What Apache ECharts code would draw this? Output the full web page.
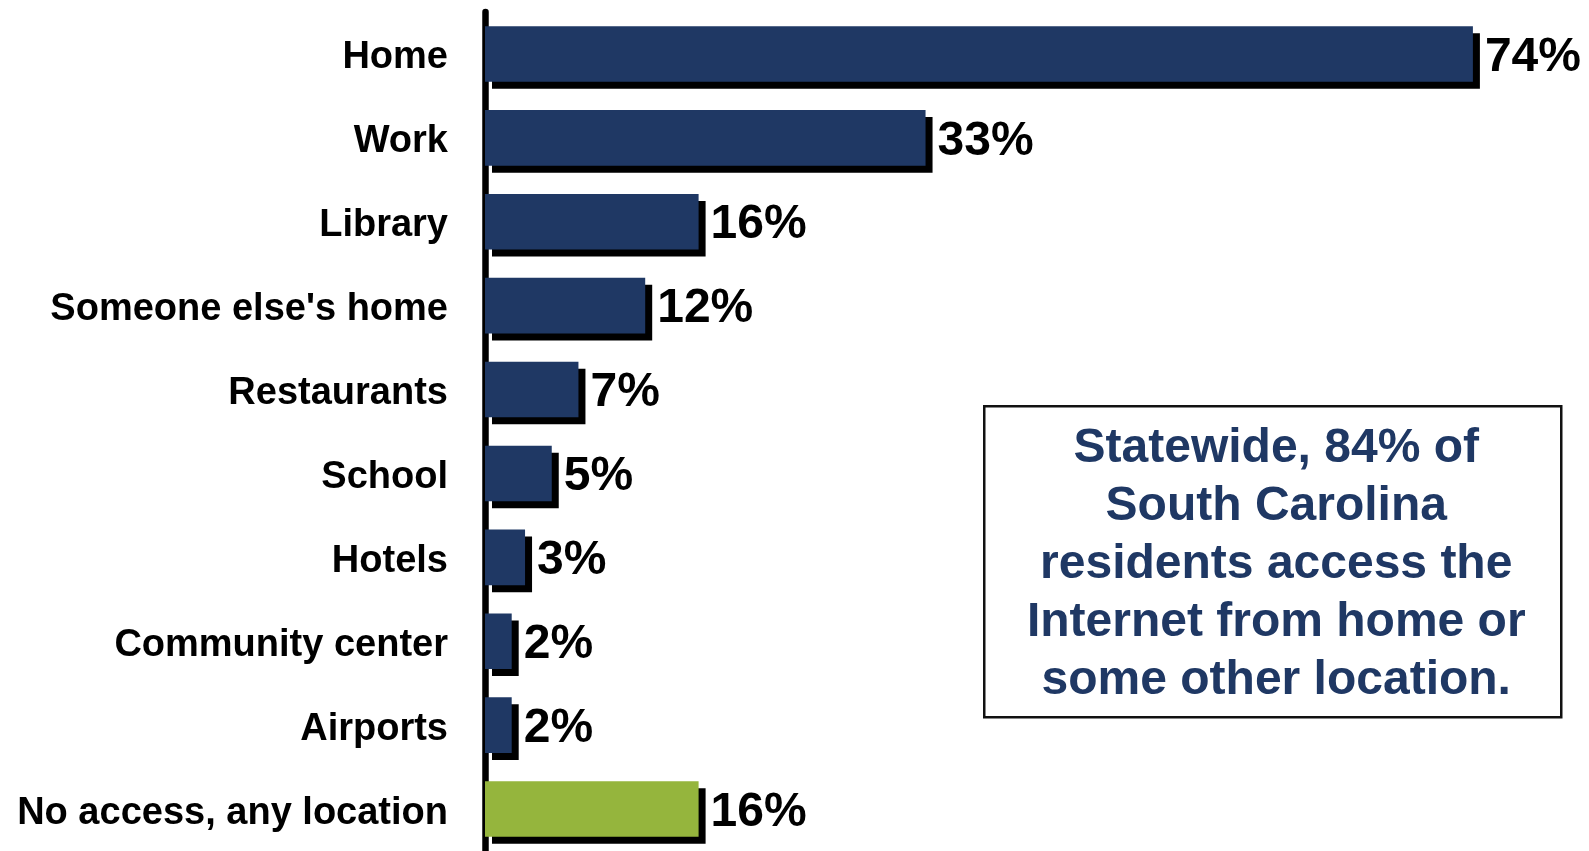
<!DOCTYPE html>
<html>
<head>
<meta charset="utf-8">
<script src="https://cdn.jsdelivr.net/npm/echarts@6/dist/echarts.min.js"></script>
<style>
html,body{margin:0;padding:0;background:#fff;}
#chart{width:1589px;height:851px;}
</style>
</head>
<body>
<div id="chart"></div>
<script>
const categories = ["Home","Work","Library","Someone else's home","Restaurants","School","Hotels","Community center","Airports","No access, any location"];
const values = [74,33,16,12,7,5,3,2,2,16];
const barColors = ["#1F3864","#1F3864","#1F3864","#1F3864","#1F3864","#1F3864","#1F3864","#1F3864","#1F3864","#95B53D"];
const noteLines = ["Statewide, 84% of","South Carolina","residents access the","Internet from home or","some other location."];

const chart = echarts.init(document.getElementById('chart'));
const FONT = '"Liberation Sans", Arial, sans-serif';
chart.setOption({
  animation: false,
  grid: {left: 485, right: 36, top: 12, bottom: -5, containLabel: false},
  xAxis: {type: 'value', min: 0, max: 80, show: false},
  yAxis: {
    type: 'category', data: categories, inverse: true, offset: 3,
    axisLine: {show: true, lineStyle: {color: '#000', width: 6.5}},
    axisTick: {show: false},
    axisLabel: {color: '#000', fontFamily: FONT, fontWeight: 'bold', fontSize: 38, margin: 34, verticalAlign: 'top', lineHeight: 8}
  },
  series: [{
    type: 'bar',
    data: values.map((v, i) => ({value: v, itemStyle: {color: barColors[i]}})),
    barCategoryGap: '33.7%',
    itemStyle: {shadowColor: '#000', shadowBlur: 0, shadowOffsetX: 7, shadowOffsetY: 7},
    label: {show: true, position: 'right', distance: 12, formatter: '{c}%', color: '#000', fontFamily: FONT, fontWeight: 'bold', fontSize: 48, verticalAlign: 'top', lineHeight: 7}
  }],
  graphic: [{
    type: 'group', left: 983, top: 405,
    children: [
      {type: 'rect', shape: {x: 0, y: 0, width: 577, height: 311}, style: {fill: '#fff', stroke: '#111', lineWidth: 2.5}},
      {type: 'text', x: 292, y: 159, style: {text: noteLines.join('\n'), fill: '#1F3864', font: 'bold 48px ' + FONT, lineHeight: 58, align: 'center', verticalAlign: 'middle'}}
    ]
  }]
});
</script>
</body>
</html>
